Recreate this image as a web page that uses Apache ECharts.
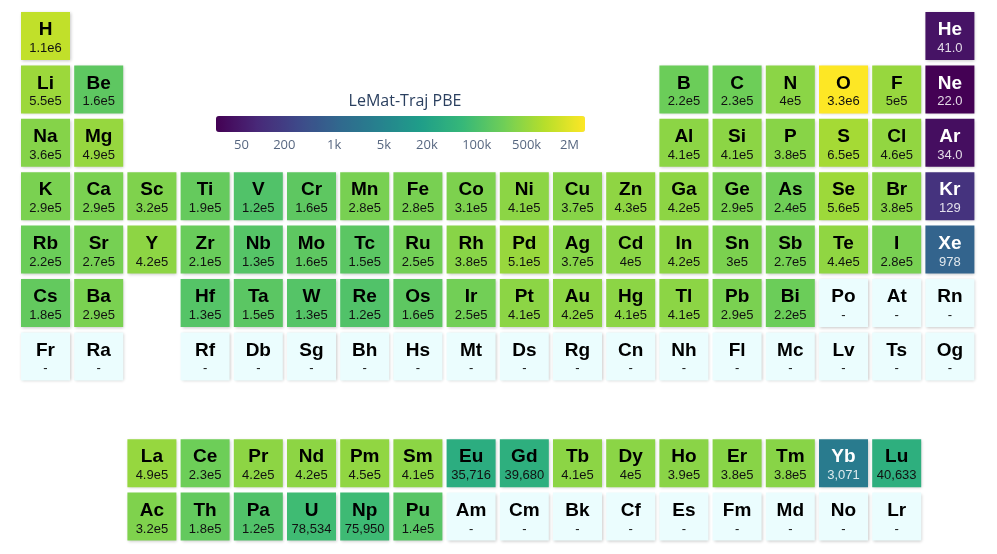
<!DOCTYPE html>
<html>
<head>
<meta charset="utf-8">
<script src="https://cdn.jsdelivr.net/npm/echarts@6/dist/echarts.min.js"></script>
<style>
  html, body { margin: 0; padding: 0; background: #fff; }
  #chart { width: 997px; height: 554px; }
</style>
</head>
<body>
<div id="chart"></div>
<script>
// periodic table layout, one list per table row ('' = empty slot)
var tableRows = [
  ['H','','','','','','','','','','','','','','','','','He'],
  ['Li','Be','','','','','','','','','','','B','C','N','O','F','Ne'],
  ['Na','Mg','','','','','','','','','','','Al','Si','P','S','Cl','Ar'],
  ['K','Ca','Sc','Ti','V','Cr','Mn','Fe','Co','Ni','Cu','Zn','Ga','Ge','As','Se','Br','Kr'],
  ['Rb','Sr','Y','Zr','Nb','Mo','Tc','Ru','Rh','Pd','Ag','Cd','In','Sn','Sb','Te','I','Xe'],
  ['Cs','Ba','','Hf','Ta','W','Re','Os','Ir','Pt','Au','Hg','Tl','Pb','Bi','Po','At','Rn'],
  ['Fr','Ra','','Rf','Db','Sg','Bh','Hs','Mt','Ds','Rg','Cn','Nh','Fl','Mc','Lv','Ts','Og'],
  [],
  ['','','La','Ce','Pr','Nd','Pm','Sm','Eu','Gd','Tb','Dy','Ho','Er','Tm','Yb','Lu'],
  ['','','Ac','Th','Pa','U','Np','Pu','Am','Cm','Bk','Cf','Es','Fm','Md','No','Lr']
]

// counts per element (null = no data)
var elementSymbols = [
  'H','He','Li','Be','B','C','N','O','F','Ne',
  'Na','Mg','Al','Si','P','S','Cl','Ar',
  'K','Ca','Sc','Ti','V','Cr','Mn','Fe','Co','Ni','Cu','Zn','Ga','Ge','As','Se','Br','Kr',
  'Rb','Sr','Y','Zr','Nb','Mo','Tc','Ru','Rh','Pd','Ag','Cd','In','Sn','Sb','Te','I','Xe',
  'Cs','Ba','Hf','Ta','W','Re','Os','Ir','Pt','Au','Hg','Tl','Pb','Bi','Po','At','Rn',
  'La','Ce','Pr','Nd','Pm','Sm','Eu','Gd','Tb','Dy','Ho','Er','Tm','Yb','Lu',
  'Ac','Th','Pa','U','Np','Pu'
]
var elementCounts = [
  1.1e6, 41.0, 5.5e5, 1.6e5, 2.2e5, 2.3e5, 4e5, 3.3e6, 5e5, 22.0,
  3.6e5, 4.9e5, 4.1e5, 4.1e5, 3.8e5, 6.5e5, 4.6e5, 34.0,
  2.9e5, 2.9e5, 3.2e5, 1.9e5, 1.2e5, 1.6e5, 2.8e5, 2.8e5, 3.1e5, 4.1e5, 3.7e5, 4.3e5, 4.2e5, 2.9e5, 2.4e5, 5.6e5, 3.8e5, 129,
  2.2e5, 2.7e5, 4.2e5, 2.1e5, 1.3e5, 1.6e5, 1.5e5, 2.5e5, 3.8e5, 5.1e5, 3.7e5, 4e5, 4.2e5, 3e5, 2.7e5, 4.4e5, 2.8e5, 978,
  1.8e5, 2.9e5, 1.3e5, 1.5e5, 1.3e5, 1.2e5, 1.6e5, 2.5e5, 4.1e5, 4.2e5, 4.1e5, 4.1e5, 2.9e5, 2.2e5, null, null, null,
  4.9e5, 2.3e5, 4.2e5, 4.2e5, 4.5e5, 4.1e5, 35716, 39680, 4.1e5, 4e5, 3.9e5, 3.8e5, 3.8e5, 3071, 40633,
  3.2e5, 1.8e5, 1.2e5, 78534, 75950, 1.4e5
]

// colorbar ticks
var tickValues = [50, 200, 1000, 5000, 20000, 100000, 500000, 2000000]
var tickLabels = ['50', '200', '1k', '5k', '20k', '100k', '500k', '2M']

var viridis = ['#440154','#482878','#3e4989','#31688e','#26828e','#1f9e89','#35b779','#6ece58','#b5de2b','#fde725']

function fmt(v) {
  if (v == null) return '-'
  if (v < 1000) return v.toPrecision(3)
  if (v < 1e5) return Math.round(v).toLocaleString('en-US')
  return v.toExponential(1).replace('.0e', 'e').replace('+', '')
}

var countOf = {}
elementSymbols.forEach(function (s, i) { countOf[s] = elementCounts[i] })

var valid = elementCounts.filter(function (v) { return v != null })
var logMin = Math.log10(Math.min.apply(null, valid))
var logMax = Math.log10(Math.max.apply(null, valid))

var cells = []
tableRows.forEach(function (row, r) {
  row.forEach(function (sym, c) {
    if (!sym) return
    var v = countOf[sym]
    cells.push({ value: [c, r, v == null ? '-' : Math.log10(v)], sym: sym, count: v == null ? null : v })
  })
})

var chart = echarts.init(document.getElementById('chart'))

chart.setOption({
  animation: false,
  grid: [
    { left: 18.9, top: 9.3, width: 957.6, height: 534 },
    { left: 216, top: 116, width: 369, height: 16 }
  ],
  xAxis: [
    { type: 'category', gridIndex: 0, data: tableRows[3].map(function (d, i) { return i }), show: false },
    { type: 'value', gridIndex: 1, min: logMin, max: logMax, show: false }
  ],
  yAxis: [
    { type: 'category', gridIndex: 0, data: tableRows.map(function (d, i) { return i }), inverse: true, show: false },
    { type: 'value', gridIndex: 1, min: 0, max: 1, show: false }
  ],
  title: {
    text: 'LeMat-Traj PBE',
    left: 400, top: 88, textAlign: 'center',
    textStyle: { fontFamily: 'Open Sans', fontSize: 16, fontWeight: 'normal', color: '#2a3f5f' }
  },
  visualMap: {
    type: 'continuous',
    seriesIndex: 0,
    dimension: 2,
    min: logMin,
    max: logMax,
    orient: 'horizontal',
    left: 216, top: 116,
    padding: 0,
    itemWidth: 16,
    itemHeight: 369,
    calculable: false,
    showLabel: false,
    text: null,
    inRange: { color: viridis }
  },
  series: [
    {
      type: 'custom',
      xAxisIndex: 0, yAxisIndex: 0,
      encode: { x: 0, y: 1 },
      data: cells,
      renderItem: function (params, api) {
        var cell = cells[params.dataIndex]
        var p = api.coord([api.value(0), api.value(1)])
        var s = api.size([1, 1])
        var w = s[0] - 4.2, h = s[1] - 5.4
        var fill = '#ebfdfe', txt = '#000', sub = '#111'
        if (cell.count != null) {
          fill = api.visual('color')
          var t = (cell.value[2] - logMin) / (logMax - logMin)
          if (t < 0.5) { txt = '#fff'; sub = 'rgba(255,255,255,0.85)' }
        }
        return {
          type: 'group',
          children: [
            {
              type: 'rect',
              shape: { x: p[0] - w / 2, y: p[1] - h / 2, width: w, height: h },
              style: { fill: fill, shadowBlur: 3, shadowOffsetX: 1, shadowOffsetY: 1, shadowColor: 'rgba(0,0,0,0.22)' }
            },
            {
              type: 'text', x: p[0], y: p[1] - 6,
              style: { text: cell.sym, fill: txt, font: 'bold 19px "Liberation Sans", Arial, sans-serif', align: 'center', verticalAlign: 'middle' }
            },
            {
              type: 'text', x: p[0], y: p[1] + 12.5,
              style: { text: fmt(cell.count), fill: sub, font: '13px "Liberation Sans", Arial, sans-serif', align: 'center', verticalAlign: 'middle' }
            }
          ]
        }
      }
    },
    {
      type: 'scatter',
      xAxisIndex: 1, yAxisIndex: 1,
      symbolSize: 0,
      silent: true,
      data: tickValues.map(function (v) { return [Math.log10(v), 0] }),
      label: {
        show: true,
        position: 'bottom',
        distance: 7,
        formatter: function (p) { return tickLabels[p.dataIndex] },
        fontFamily: 'Open Sans',
        fontSize: 13,
        color: '#2a3f5f'
      }
    }
  ]
})
</script>
</body>
</html>
